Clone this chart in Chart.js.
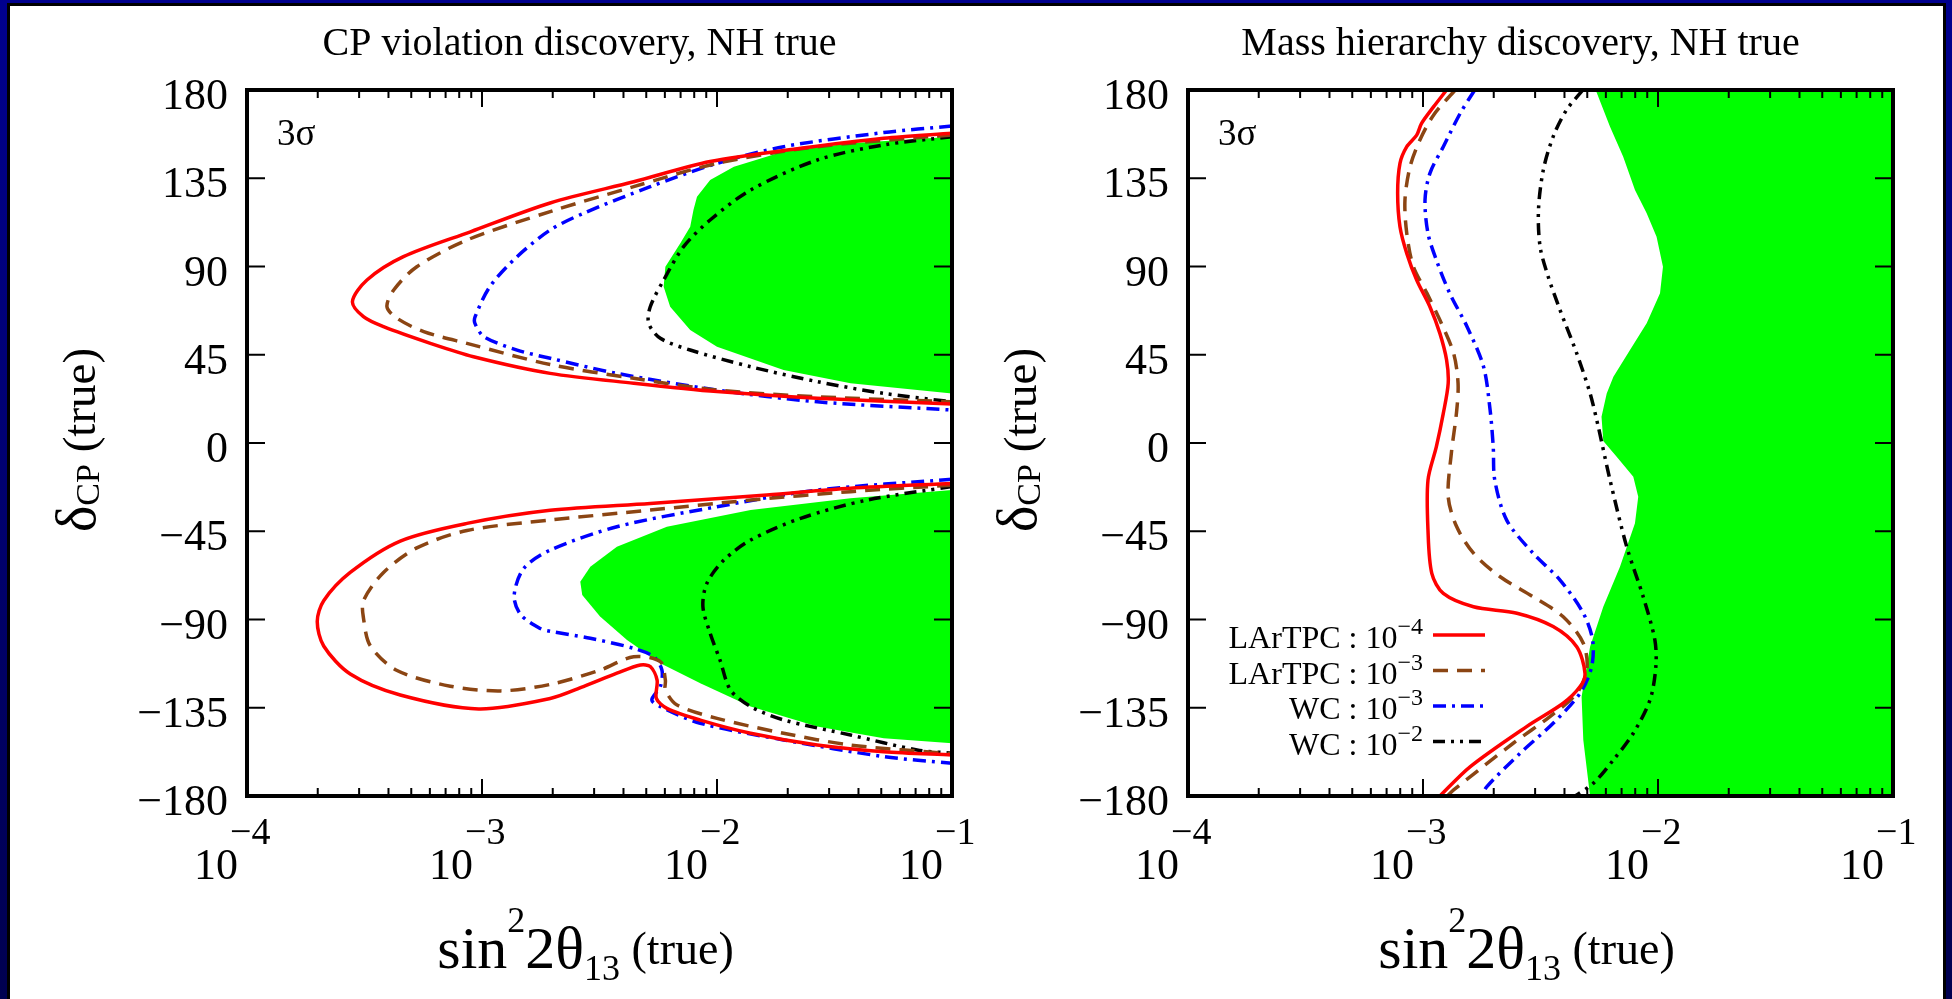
<!DOCTYPE html>
<html>
<head>
<meta charset="utf-8">
<title>CP violation and mass hierarchy discovery</title>
<script src="https://cdn.jsdelivr.net/npm/chart.js@4.4.1/dist/chart.umd.min.js"></script>
<style>
  body { margin: 0; width: 1952px; height: 999px; overflow: hidden;
         background: linear-gradient(to bottom, #00008e, #000050); }
  #edge { position: absolute; left: 7px; top: 3px; width: 1939px; height: 996px; background: #000; }
  #paper { position: absolute; left: 10px; top: 6px; width: 1933px; height: 993px; background: #fff; }
  canvas { position: absolute; top: 0; }
</style>
</head>
<body>
<div id="edge"></div>
<div id="paper"></div>
<canvas id="cpChart" width="975" height="999" style="left:0px"></canvas>
<canvas id="mhChart" width="977" height="999" style="left:975px"></canvas>
<script>
// axis ticks and labels
const yTicks = [-180, -135, -90, -45, 0, 45, 90, 135, 180];
const xDecades = [1e-4, 1e-3, 1e-2, 1e-1];
const xDecadePowers = ['−4', '−3', '−2', '−1'];
const legendNames = ['LArTPC : 10', 'LArTPC : 10', 'WC : 10', 'WC : 10'];
const legendPowers = ['−4', '−3', '−3', '−2'];

// CP violation discovery (left panel): [sin^2 2theta13, deltaCP]
const cpLar4Upper = [[0.1,158.0],[5.12e-2,155.4],[2.27e-2,150.3],[9.35e-3,143.5],[4.42e-3,133.2],[1.95e-3,122.4],[8.93e-4,107.7],[4.63e-4,95.0],[3.24e-4,83.1],[2.81e-4,72.1],[3.13e-4,64.4],[3.81e-4,59.3],[6.03e-4,50.8],[9.20e-4,44.0],[1.95e-3,35.5],[4.42e-3,30.5],[1.0e-2,26.2],[2.67e-2,22.8],[0.1,19.9]];
const cpLar4Lower = [[0.1,-20.6],[3.7e-2,-23.1],[1.63e-2,-26.5],[5.2e-3,-30.8],[1.95e-3,-34.3],[8.63e-4,-41.0],[4.49e-4,-50.0],[2.75e-4,-66.0],[2.12e-4,-80.4],[1.99e-4,-91.0],[2.12e-4,-103.5],[2.75e-4,-117.8],[4.49e-4,-128.5],[9.68e-4,-135.6],[1.95e-3,-130.3],[2.7e-3,-124.2],[3.75e-3,-117.4],[4.72e-3,-113.2],[5.2e-3,-114.0],[5.56e-3,-120.9],[5.52e-3,-130.2],[6.12e-3,-135.3],[8.49e-3,-141.3],[1.39e-2,-148.0],[2.67e-2,-154.0],[5.12e-2,-157.4],[0.1,-159.1]];
const cpLar3Upper = [[0.1,157.1],[2.67e-2,151.1],[1.0e-2,142.6],[4.42e-3,130.7],[1.95e-3,118.0],[8.63e-4,103.5],[5.28e-4,89.9],[4.21e-4,78.0],[3.94e-4,69.5],[4.35e-4,63.6],[5.65e-4,56.8],[8.63e-4,50.8],[1.95e-3,40.0],[4.42e-3,33.0],[1.0e-2,27.0],[2.67e-2,23.6],[0.1,21.0]];
const cpLar3Lower = [[0.1,-21.5],[3.7e-2,-24.8],[1.39e-2,-29.1],[5.2e-3,-34.2],[1.95e-3,-39.3],[8.63e-4,-44.6],[5.28e-4,-53.5],[3.81e-4,-66.0],[3.13e-4,-80.4],[3.13e-4,-89.2],[3.35e-4,-103.5],[4.35e-4,-116.0],[7.33e-4,-124.0],[1.2e-3,-126.4],[1.95e-3,-123.1],[3.18e-3,-115.8],[4.42e-3,-109.0],[5.74e-3,-111.5],[6.03e-3,-120.9],[6.03e-3,-126.0],[6.76e-3,-133.6],[1.0e-2,-140.4],[1.92e-2,-148.0],[3.7e-2,-154.0],[0.1,-158.5]];
const cpWc3Upper = [[0.1,161.6],[5.12e-2,158.3],[1.92e-2,151.1],[1.0e-2,142.6],[5.2e-3,130.7],[2.7e-3,117.1],[1.95e-3,108.6],[1.41e-3,95.0],[1.08e-3,79.7],[9.35e-4,64.4],[9.33e-4,61.0],[1.02e-3,54.2],[1.41e-3,47.4],[1.95e-3,43.2],[3.75e-3,35.5],[1.0e-2,27.0],[2.67e-2,21.0],[0.1,16.8]];
const cpWc3Lower = [[0.1,-18.5],[2.67e-2,-24.0],[1.0e-2,-32.5],[3.75e-3,-42.7],[1.95e-3,-54.6],[1.5e-3,-64.2],[1.37e-3,-78.0],[1.46e-3,-87.5],[1.77e-3,-94.6],[1.95e-3,-96.0],[2.89e-3,-99.6],[4.42e-3,-104.7],[5.37e-3,-108.9],[5.83e-3,-115.8],[5.74e-3,-124.2],[5.28e-3,-131.0],[5.74e-3,-134.4],[8.49e-3,-142.9],[1.92e-2,-151.4],[5.12e-2,-159.9],[0.1,-163.3]];
const cpWc2Upper = [[0.1,156.2],[5.12e-2,152.0],[2.67e-2,144.3],[1.39e-2,129.0],[9.35e-3,113.7],[7.21e-3,100.1],[5.93e-3,83.1],[5.2e-3,69.5],[5.12e-3,61.0],[5.74e-3,53.4],[7.69e-3,47.4],[1.39e-2,38.9],[2.67e-2,31.3],[5.12e-2,25.3],[0.1,21.0]];
const cpWc2Lower = [[0.1,-22.2],[4.35e-2,-29.1],[2.27e-2,-38.4],[1.39e-2,-49.5],[1.07e-2,-59.7],[9.06e-3,-71.5],[8.71e-3,-83.4],[9.35e-3,-97.0],[1.03e-2,-110.7],[1.14e-2,-125.9],[1.39e-2,-134.4],[1.92e-2,-141.2],[3.7e-2,-148.9],[7.1e-2,-156.5],[0.1,-158.2]];
const cpGreenUpper = [[0.1,156.2],[3.7e-2,152.8],[1.92e-2,148.6],[1.18e-2,140.9],[9.35e-3,134.1],[8.22e-3,125.6],[7.94e-3,118.8],[7.69e-3,110.3],[6.98e-3,101.8],[6.03e-3,89.9],[5.93e-3,79.7],[6.32e-3,69.5],[7.69e-3,57.6],[1.0e-2,49.1],[1.92e-2,37.2],[3.7e-2,30.5],[0.1,25.3],[0.1,156.2]];
const cpGreenLower = [[0.1,-24.0],[3.7e-2,-28.2],[1.39e-2,-34.2],[6.12e-3,-42.7],[3.75e-3,-52.9],[2.89e-3,-63.1],[2.62e-3,-70.7],[2.67e-3,-77.5],[3.18e-3,-88.5],[4.14e-3,-100.5],[5.74e-3,-112.3],[8.49e-3,-122.5],[1.39e-2,-134.4],[2.67e-2,-144.6],[5.12e-2,-150.6],[0.1,-153.1],[0.1,-24.0]];

// Mass hierarchy discovery (right panel)
const mhLar4 = [[1.26e-3,180],[1.11e-3,171.5],[9.86e-4,163.0],[9.4e-4,157.0],[8.53e-4,151.1],[7.98e-4,142.6],[7.8e-4,127.3],[7.98e-4,110.3],[8.53e-4,96.7],[9.4e-4,83.1],[1.07e-3,69.5],[1.18e-3,55.9],[1.26e-3,42.3],[1.28e-3,30.4],[1.22e-3,15.1],[1.14e-3,-1.9],[1.05e-3,-18.9],[1.05e-3,-44.4],[1.09e-3,-66.5],[1.22e-3,-76.7],[1.64e-3,-83.5],[2.51e-3,-86.8],[3.58e-3,-93.6],[4.51e-3,-103.9],[4.89e-3,-117.5],[4.66e-3,-124.2],[3.95e-3,-132.7],[2.76e-3,-144.6],[1.59e-3,-165.0],[1.18e-3,-180]];
const mhLar3 = [[1.37e-3,180],[1.11e-3,167.3],[9.7e-4,154.5],[8.81e-4,140.9],[8.38e-4,123.9],[8.53e-4,106.9],[9.1e-4,89.9],[1.04e-3,76.3],[1.18e-3,62.7],[1.35e-3,45.7],[1.41e-3,30.4],[1.39e-3,16.0],[1.32e-3,-5.3],[1.28e-3,-27.4],[1.39e-3,-42.6],[1.64e-3,-56.2],[2.13e-3,-68.2],[2.94e-3,-78.4],[3.95e-3,-88.6],[4.81e-3,-102.1],[4.98e-3,-115.8],[4.51e-3,-127.6],[3.47e-3,-139.5],[2.42e-3,-153.1],[1.35e-3,-176.9],[1.27e-3,-180]];
const mhWc3 = [[1.66e-3,180],[1.44e-3,168.1],[1.22e-3,151.1],[1.07e-3,137.5],[1.02e-3,123.9],[1.05e-3,106.9],[1.14e-3,93.3],[1.3e-3,76.3],[1.54e-3,59.3],[1.81e-3,38.9],[1.93e-3,16.8],[1.99e-3,-1.9],[2.02e-3,-18.9],[2.27e-3,-39.3],[2.94e-3,-56.2],[3.83e-3,-69.9],[4.81e-3,-86.8],[5.27e-3,-100.5],[5.22e-3,-114.1],[4.66e-3,-127.6],[3.58e-3,-142.9],[2.59e-3,-158.2],[1.87e-3,-175.2],[1.78e-3,-180]];
const mhWc2 = [[4.79e-3,180],[4.08e-3,169.8],[3.58e-3,156.2],[3.25e-3,139.2],[3.1e-3,118.8],[3.15e-3,100.1],[3.41e-3,84.8],[3.83e-3,67.8],[4.51e-3,45.7],[5.14e-3,25.3],[5.57e-3,8.3],[6.25e-3,-18.9],[7.36e-3,-52.9],[8.65e-3,-78.4],[9.7e-3,-100.5],[9.79e-3,-114.1],[9.25e-3,-131.0],[7.85e-3,-148.0],[6.46e-3,-161.6],[5.31e-3,-173.5],[4.44e-3,-180]];
const mhGreen = [[5.43e-3,180],[6.25e-3,161.3],[7.11e-3,146.0],[7.98e-3,129.0],[8.95e-3,117.1],[9.86e-3,105.2],[1.05e-2,89.9],[1.02e-2,76.3],[8.95e-3,61.0],[7.6e-3,47.4],[6.46e-3,33.8],[6.05e-3,25.3],[5.75e-3,13.4],[5.85e-3,1.0],[6.67e-3,-7.0],[7.85e-3,-17.2],[8.24e-3,-27.4],[7.98e-3,-40.9],[6.89e-3,-63.1],[5.85e-3,-83.5],[5.14e-3,-103.9],[4.73e-3,-129.4],[4.81e-3,-151.4],[5.14e-3,-180],[0.1,-180],[0.1,180],[5.43e-3,180]];

const FONT = '"Liberation Serif", "DejaVu Serif", serif';
Chart.defaults.font.family = FONT;

// line styles: LArTPC 1e-4, LArTPC 1e-3, WC 1e-3, WC 1e-2
const lineStyles = [
    { borderColor: '#ff0000', borderDash: [] },
    { borderColor: '#8b4513', borderDash: [15, 9] },
    { borderColor: '#0000ff', borderDash: [13, 6, 3, 6] },
    { borderColor: '#000000', borderDash: [12, 6, 3, 6, 3, 6] }
];

function toPoints(arr) {
    return arr.map(p => ({ x: p[0], y: p[1] }));
}

function curve(arr, style) {
    return {
        data: toPoints(arr),
        showLine: true,
        pointRadius: 0,
        borderWidth: 3.5,
        tension: 0.3,
        fill: false,
        borderColor: style.borderColor,
        borderDash: style.borderDash
    };
}

function greenArea(arr) {
    return {
        data: toPoints(arr),
        showLine: true,
        pointRadius: 0,
        borderWidth: 0,
        borderColor: 'rgba(0,0,0,0)',
        backgroundColor: '#00ff00',
        tension: 0,
        fill: 'shape'
    };
}

// text made of pieces with their own size and vertical shift
function drawParts(ctx, parts, x, y, align) {
    let total = 0;
    const widths = parts.map(p => {
        ctx.font = p.size + 'px ' + FONT;
        const w = ctx.measureText(p.t).width;
        total += w;
        return w;
    });
    let cx = align === 'center' ? x - total / 2 : (align === 'right' ? x - total : x);
    ctx.textAlign = 'left';
    parts.forEach((p, i) => {
        ctx.font = p.size + 'px ' + FONT;
        ctx.fillText(p.t, cx, y + (p.dy || 0));
        cx += widths[i];
    });
}

// frame, inward ticks, labels, titles and legend
const panelDecor = {
    id: 'panelDecor',
    afterDraw(chart, args, opts) {
        const { ctx, chartArea: a } = chart;
        const xs = chart.scales.x, ys = chart.scales.y;
        ctx.save();
        ctx.fillStyle = '#000';
        ctx.strokeStyle = '#000';
        ctx.textBaseline = 'alphabetic';

        // ticks
        ctx.lineWidth = 2;
        ctx.beginPath();
        yTicks.forEach(v => {
            if (Math.abs(v) === 180) return;
            const py = ys.getPixelForValue(v);
            ctx.moveTo(a.left, py); ctx.lineTo(a.left + 18, py);
            ctx.moveTo(a.right, py); ctx.lineTo(a.right - 18, py);
        });
        for (let d = 0; d < 3; d++) {
            for (let m = 1; m <= 9; m++) {
                const px = xs.getPixelForValue(m * xDecades[d]);
                const len = m === 1 ? 17 : 8;
                ctx.moveTo(px, a.bottom); ctx.lineTo(px, a.bottom - len);
                ctx.moveTo(px, a.top); ctx.lineTo(px, a.top + len);
            }
        }
        ctx.stroke();

        // frame
        ctx.lineWidth = 4;
        ctx.strokeRect(a.left, a.top, a.right - a.left, a.bottom - a.top);

        // y tick labels
        ctx.font = '44px ' + FONT;
        ctx.textAlign = 'right';
        yTicks.forEach(v => {
            ctx.fillText(String(v).replace('-', '−'), a.left - 19, ys.getPixelForValue(v) + 19);
        });

        // x tick labels 10^n
        xDecades.forEach((v, i) => {
            const px = xs.getPixelForValue(v);
            ctx.font = '44px ' + FONT;
            ctx.textAlign = 'right';
            ctx.fillText('10', px - 9, a.bottom + 83);
            ctx.font = '38px ' + FONT;
            ctx.textAlign = 'left';
            ctx.fillText(xDecadePowers[i], px - 17, a.bottom + 48);
        });

        const mid = (a.left + a.right) / 2;

        // panel title
        ctx.font = '40px ' + FONT;
        ctx.textAlign = 'center';
        ctx.fillText(opts.title, mid - 20, 55);

        // x axis title
        drawParts(ctx, [
            { t: 'sin', size: 60 },
            { t: '2', size: 36, dy: -36 },
            { t: '2θ', size: 60 },
            { t: '13', size: 36, dy: 12 },
            { t: ' (true)', size: 46, dy: -4 }
        ], mid - 14, 968, 'center');

        // y axis title, rotated
        ctx.save();
        ctx.translate(a.left - 152, (a.top + a.bottom) / 2 - 3);
        ctx.rotate(-Math.PI / 2);
        drawParts(ctx, [
            { t: 'δ', size: 56 },
            { t: 'CP', size: 34, dy: 4 },
            { t: ' (true)', size: 47 }
        ], 0, 0, 'center');
        ctx.restore();

        // 3 sigma label
        ctx.font = '37px ' + FONT;
        ctx.textAlign = 'left';
        ctx.fillText('3σ', a.left + 30, a.top + 55);

        // legend
        if (opts.legend) {
            legendNames.forEach((name, i) => {
                const rowY = a.top + 545 + i * 35.5;
                ctx.font = '24px ' + FONT;
                const supW = ctx.measureText(legendPowers[i]).width;
                const supL = a.left + 235 - supW;
                ctx.textAlign = 'left';
                ctx.fillText(legendPowers[i], supL, rowY - 1);
                ctx.font = '32px ' + FONT;
                ctx.textAlign = 'right';
                ctx.fillText(name, supL, rowY + 13);
                ctx.save();
                ctx.strokeStyle = lineStyles[i].borderColor;
                ctx.setLineDash(lineStyles[i].borderDash);
                ctx.lineWidth = 3.5;
                ctx.beginPath();
                ctx.moveTo(a.left + 245, rowY);
                ctx.lineTo(a.left + 297, rowY);
                ctx.stroke();
                ctx.restore();
            });
        }
        ctx.restore();
    }
};

function panelOptions(padding, title, legend) {
    return {
        responsive: false,
        animation: false,
        layout: { padding: padding },
        plugins: {
            legend: { display: false },
            tooltip: { enabled: false },
            panelDecor: { title: title, legend: legend }
        },
        scales: {
            x: { type: 'logarithmic', min: 1e-4, max: 0.1, display: false },
            y: { type: 'linear', min: -180, max: 180, display: false }
        }
    };
}

// left panel: CP violation discovery
new Chart(document.getElementById('cpChart'), {
    type: 'scatter',
    data: {
        datasets: [
            curve(cpLar4Upper, lineStyles[0]),
            curve(cpLar4Lower, lineStyles[0]),
            curve(cpLar3Upper, lineStyles[1]),
            curve(cpLar3Lower, lineStyles[1]),
            curve(cpWc3Upper, lineStyles[2]),
            curve(cpWc3Lower, lineStyles[2]),
            curve(cpWc2Upper, lineStyles[3]),
            curve(cpWc2Lower, lineStyles[3]),
            greenArea(cpGreenUpper),
            greenArea(cpGreenLower)
        ]
    },
    options: panelOptions({ left: 247, top: 90, right: 23, bottom: 203 }, 'CP violation discovery, NH true', false),
    plugins: [panelDecor]
});

// right panel: mass hierarchy discovery
new Chart(document.getElementById('mhChart'), {
    type: 'scatter',
    data: {
        datasets: [
            curve(mhLar4, lineStyles[0]),
            curve(mhLar3, lineStyles[1]),
            curve(mhWc3, lineStyles[2]),
            curve(mhWc2, lineStyles[3]),
            greenArea(mhGreen)
        ]
    },
    options: panelOptions({ left: 213, top: 90, right: 59, bottom: 203 }, 'Mass hierarchy discovery, NH true', true),
    plugins: [panelDecor]
});
</script>
</body>
</html>
